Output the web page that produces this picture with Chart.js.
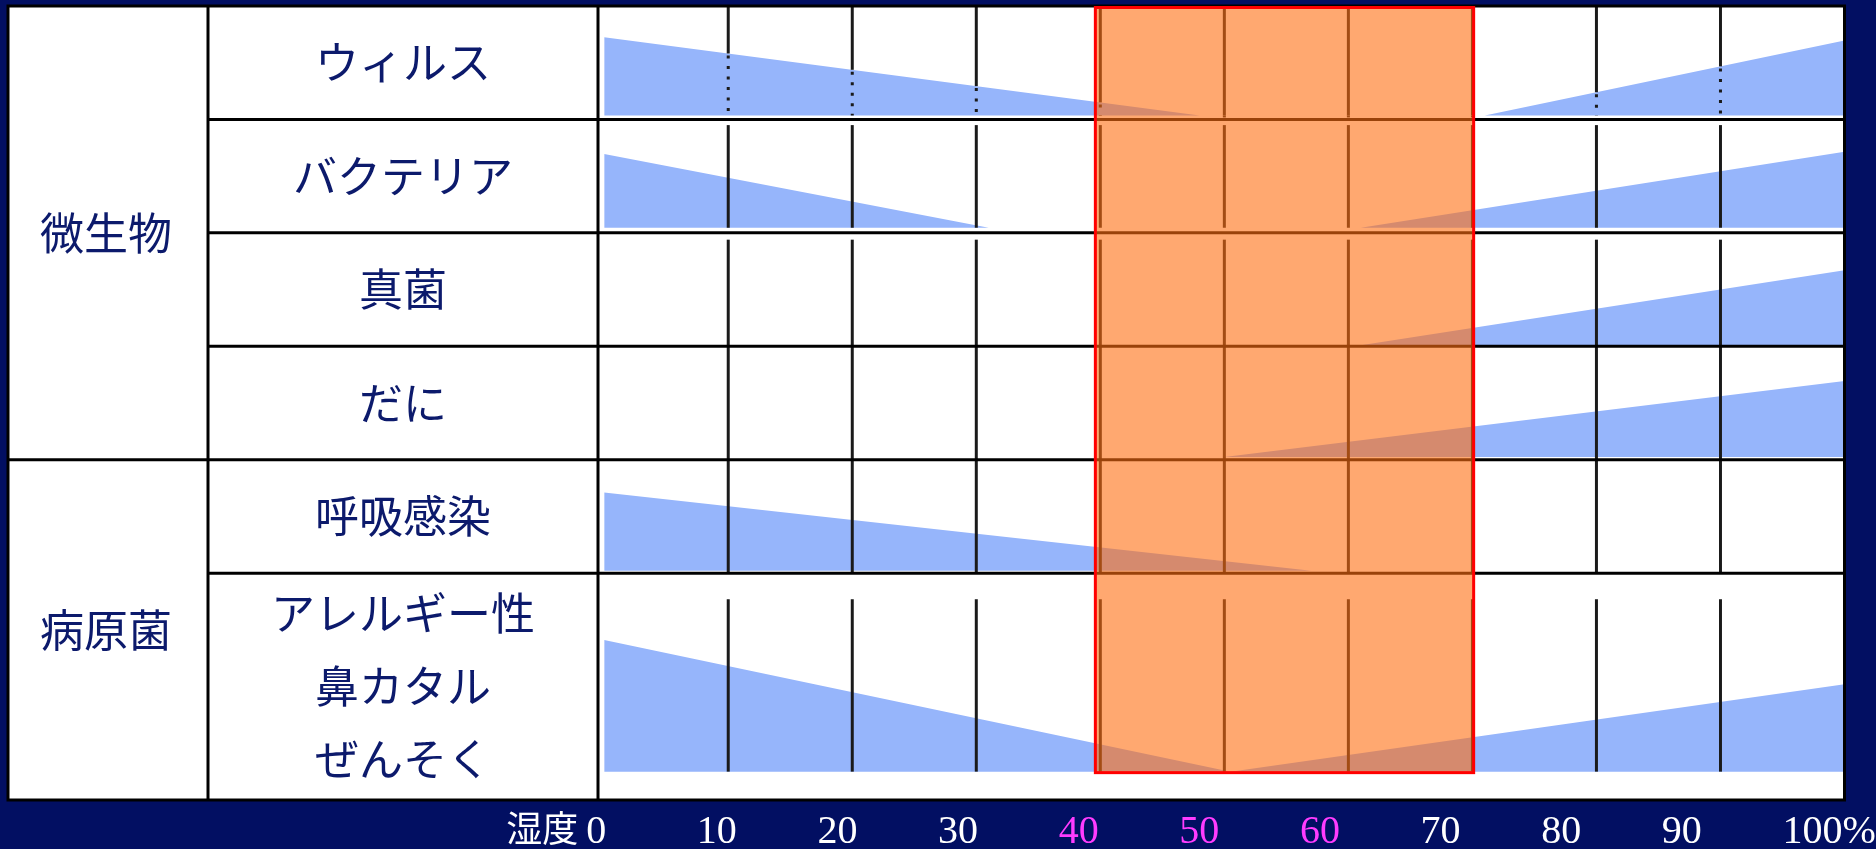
<!DOCTYPE html>
<html>
<head>
<meta charset="utf-8">
<script src="https://cdn.jsdelivr.net/npm/chart.js@4.4.1/dist/chart.umd.min.js"></script>
<style>
html,body{margin:0;padding:0;background:#020f62;overflow:hidden}
canvas{display:block}
</style>
</head>
<body>
<canvas id="c" width="1876" height="849"></canvas>
<script>
// ---------- data ----------
const groupLabels = ['微生物', '病原菌'];
const groupRowCounts = [4, 2];
const rowLabels = ['ウィルス', 'バクテリア', '真菌', 'だに', '呼吸感染', ['アレルギー性', '鼻カタル', 'ぜんそく']];
const rowSpans = [1, 1, 1, 1, 1, 2];
const humidityTicks = [0, 10, 20, 30, 40, 50, 60, 70, 80, 90, 100];
const highlightTicks = [40, 50, 60];
const comfortZone = [39.6, 70.1];
const axisTitle = '湿度';

// [humidity %, risk level (row units)]
const virusRisk       = [[0, 0.69], [48, 0], [71, 0], [100, 0.66]];
const bacteriaRisk    = [[0, 0.65], [31, 0], [61, 0], [100, 0.67]];
const fungusRisk      = [[61, 0], [100, 0.66]];
const miteRisk        = [[50, 0], [100, 0.67]];
const respiratoryRisk = [[0, 0.69], [57, 0]];
const allergyRisk     = [[0, 1.16], [50.5, 0], [100, 0.77]];
const riskSeries = [virusRisk, bacteriaRisk, fungusRisk, miteRisk, respiratoryRisk, allergyRisk];

// ---------- style ----------
const NAVY = '#020f62', BLUE = '#96b5fb', INK = '#0c1a6c', MAGENTA = '#ff3cff', GRID = '#1a1a1a';
const CJK = "'Noto Sans CJK JP', 'Noto Sans CJK SC', sans-serif";
const rowBaseGap   = [0.035, 0.045, 0.01, 0.025, 0.02, 0.25];
const gridTopInset = [0, 0.05, 0.06, 0, 0, 0.23];
const gridToBase   = [true, true, false, false, false, true];
const dottedRows   = [0];

// ---------- derived row geometry (in y-axis units) ----------
const total = rowSpans.reduce((a, b) => a + b, 0);
const rowTop = [], rowBottom = [];
let acc = total;
rowSpans.forEach(s => { rowTop.push(acc); acc -= s; rowBottom.push(acc); });
const rowBase = rowBottom.map((b, i) => b + rowBaseGap[i]);
const rowCenters = rowTop.map((t, i) => (t + rowBottom[i]) / 2);
const groupCenters = [];
let r = 0;
groupRowCounts.forEach(n => { groupCenters.push((rowTop[r] + rowBottom[r + n - 1]) / 2); r += n; });

const rowOrder = rowCenters.map((c, i) => i).sort((a, b) => rowCenters[a] - rowCenters[b]);
const groupOrder = groupCenters.map((c, i) => i).sort((a, b) => groupCenters[a] - groupCenters[b]);

const datasets = riskSeries.map((pts, i) => ({
  label: Array.isArray(rowLabels[i]) ? rowLabels[i].join('') : rowLabels[i],
  data: pts.map(([h, l]) => ({ x: h, y: rowBase[i] + l })),
  fill: { value: rowBase[i] },
  backgroundColor: BLUE,
  borderWidth: 0,
  pointRadius: 0,
  tension: 0
}));

// level of a series at humidity v (linear between read points)
function levelAt(pts, v) {
  for (let k = 0; k < pts.length - 1; k++) {
    const [h0, l0] = pts[k], [h1, l1] = pts[k + 1];
    if (v >= h0 && v <= h1) return l0 + (l1 - l0) * (v - h0) / (h1 - h0);
  }
  return 0;
}

function vline(ctx, x, y1, y2) { ctx.beginPath(); ctx.moveTo(x, y1); ctx.lineTo(x, y2); ctx.stroke(); }
function hline(ctx, x1, x2, y) { ctx.beginPath(); ctx.moveTo(x1, y); ctx.lineTo(x2, y); ctx.stroke(); }
const innerTicks = humidityTicks.slice(1, -1);

function rowGrid(chart, i) {
  const { ctx, scales: { x, y } } = chart;
  const y1 = y.getPixelForValue(rowTop[i] - gridTopInset[i]);
  const y2 = y.getPixelForValue(gridToBase[i] ? rowBase[i] : rowBottom[i]);
  innerTicks.forEach(v => {
    const px = x.getPixelForValue(v);
    if (dottedRows.includes(i)) {
      const yb = y.getPixelForValue(rowBase[i] + levelAt(riskSeries[i], v));
      ctx.setLineDash([]);
      vline(ctx, px, y1, yb);
      ctx.setLineDash([3, 7.5]);
      vline(ctx, px, yb + 2, y2);
      ctx.setLineDash([]);
    } else {
      vline(ctx, px, y1, y2);
    }
  });
}

const tablePlugin = {
  id: 'table',
  beforeDraw(chart) {
    const { ctx, chartArea, scales: { yg } } = chart;
    ctx.save();
    ctx.fillStyle = NAVY;
    ctx.fillRect(0, 0, chart.width, chart.height);
    ctx.fillStyle = '#ffffff';
    ctx.fillRect(yg.left, chartArea.top, chartArea.right - yg.left, chartArea.bottom - chartArea.top);
    ctx.restore();
  },
  afterDatasetsDraw(chart) {
    const { ctx, chartArea, scales: { x, y, yg } } = chart;
    ctx.save();
    ctx.strokeStyle = GRID;
    ctx.lineWidth = 3;
    for (let i = 0; i < rowSpans.length; i++) rowGrid(chart, i);

    // horizontal dividers
    ctx.strokeStyle = '#000000';
    ctx.lineWidth = 3;
    const gEdges = [];
    let c = 0;
    groupRowCounts.forEach(n => { c += n; gEdges.push(c - 1); });
    for (let i = 0; i < rowSpans.length - 1; i++) {
      const py = y.getPixelForValue(rowBottom[i]);
      hline(ctx, gEdges.includes(i) ? yg.left : y.left, chartArea.right, py);
    }
    // vertical column dividers
    vline(ctx, y.left, chartArea.top, chartArea.bottom);
    vline(ctx, chartArea.left, chartArea.top, chartArea.bottom);
    // outer border
    ctx.strokeRect(yg.left, chartArea.top, chartArea.right - yg.left, chartArea.bottom - chartArea.top);

    // comfort zone
    const zx1 = x.getPixelForValue(comfortZone[0]);
    const zx2 = x.getPixelForValue(comfortZone[1]);
    const zy1 = y.getPixelForValue(total) + 1.5;
    const zy2 = y.getPixelForValue(rowBase[rowBase.length - 1]) + 1;
    ctx.fillStyle = 'rgba(255,110,17,0.6)';
    ctx.fillRect(zx1, zy1, zx2 - zx1, zy2 - zy1);
    ctx.strokeStyle = '#ff0000';
    ctx.lineWidth = 3;
    ctx.strokeRect(zx1, zy1, zx2 - zx1, zy2 - zy1);

    // humidity labels
    const baseY = chartArea.bottom + 43;
    ctx.textBaseline = 'alphabetic';
    ctx.textAlign = 'left';
    ctx.font = "40px 'Liberation Serif', 'Times New Roman', serif";
    let firstLeft = 0;
    humidityTicks.forEach((v, k) => {
      const txt = v === 100 ? '100%' : String(v);
      let left = x.getPixelForValue(v) - 28 - 0.34 * v;
      if (txt.length === 1) left += 10;
      if (k === 0) firstLeft = left;
      ctx.fillStyle = highlightTicks.includes(v) ? MAGENTA : '#ffffff';
      ctx.fillText(txt, left, baseY);
    });
    ctx.font = '36px ' + CJK;
    ctx.textAlign = 'right';
    ctx.fillStyle = '#ffffff';
    ctx.fillText(axisTitle, firstLeft - 8, baseY - 1);
    ctx.restore();
  }
};

new Chart(document.getElementById('c'), {
  type: 'line',
  data: { datasets },
  options: {
    responsive: false,
    devicePixelRatio: 1,
    animation: false,
    events: [],
    layout: { padding: { left: 8, top: 6, right: 31.5, bottom: 49 } },
    plugins: { legend: { display: false }, tooltip: { enabled: false } },
    scales: {
      x: { type: 'linear', min: -0.5, max: 100, display: false },
      y: {
        type: 'linear', min: 0, max: total, position: 'left', weight: 0,
        grid: { display: false, drawTicks: false },
        border: { display: false },
        ticks: {
          autoSkip: false, crossAlign: 'center', padding: 63, color: INK,
          font: { family: CJK, size: 44, lineHeight: 1.66 },
          callback: (v, idx) => rowLabels[rowOrder[idx]]
        },
        afterBuildTicks: s => { s.ticks = rowOrder.map(i => ({ value: rowCenters[i] })); },
        afterFit: s => { s.width = 390; s.paddingTop = 0; s.paddingBottom = 0; }
      },
      yg: {
        type: 'linear', min: 0, max: total, position: 'left', weight: 1,
        grid: { display: false, drawTicks: false },
        border: { display: false },
        ticks: {
          autoSkip: false, crossAlign: 'center', padding: 36, color: INK,
          font: { family: CJK, size: 44 },
          callback: (v, idx) => groupLabels[groupOrder[idx]]
        },
        afterBuildTicks: s => { s.ticks = groupOrder.map(i => ({ value: groupCenters[i] })); },
        afterFit: s => { s.width = 200; s.paddingTop = 0; s.paddingBottom = 0; }
      }
    }
  },
  plugins: [tablePlugin]
});
</script>
</body>
</html>
